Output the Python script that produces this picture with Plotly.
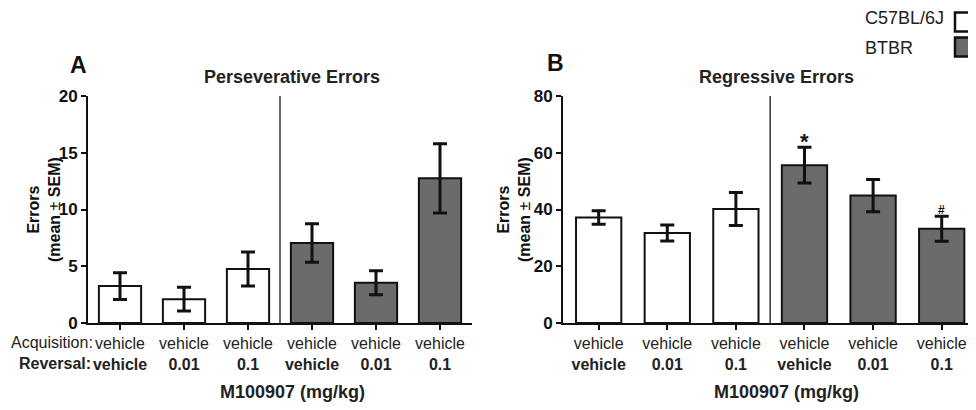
import plotly.graph_objects as go

# ---- data ----
strains = ["C57BL/6J", "BTBR"]
strain_of_bar = ["C57BL/6J", "C57BL/6J", "C57BL/6J", "BTBR", "BTBR", "BTBR"]
acq_labels = ["vehicle", "vehicle", "vehicle", "vehicle", "vehicle", "vehicle"]
rev_labels = ["vehicle", "0.01", "0.1", "vehicle", "0.01", "0.1"]
pers_mean = [3.25, 2.1, 4.75, 7.05, 3.55, 12.75]
pers_sem = [1.17, 1.05, 1.5, 1.7, 1.05, 3.05]
reg_mean = [37.2, 31.7, 40.2, 55.6, 44.9, 33.2]
reg_sem = [2.4, 2.8, 5.8, 6.3, 5.7, 4.4]
reg_marks = ["", "", "", "*", "", "#"]
pers_ticks = [0, 5, 10, 15, 20]
reg_ticks = [0, 20, 40, 60, 80]

FONT = "Liberation Sans, Arial, sans-serif"
fills = {"C57BL/6J": "#ffffff", "BTBR": "#6d6a6b"}

# page has an 8px body margin at top-left; figure fills the rest of the window
OFF = 8
W, H = 976 - OFF, 410 - OFF

def px(x):
    return (x - OFF) / W

def py(y):
    return 1 - (y - OFF) / H

fig = go.Figure()
pos = list(range(len(rev_labels)))
ticktext = [f"{a}<br><b>{r}</b>" for a, r in zip(acq_labels, rev_labels)]

for means, sems, xa, ya in [(pers_mean, pers_sem, "x", "y"), (reg_mean, reg_sem, "x2", "y2")]:
    for s in strains:
        idx = [i for i, st in enumerate(strain_of_bar) if st == s]
        fig.add_trace(go.Bar(
            x=[pos[i] for i in idx], y=[means[i] for i in idx],
            error_y=dict(type="data", array=[sems[i] for i in idx], color="#111", thickness=3, width=7),
            marker=dict(color=fills[s], line=dict(color="#111", width=2)),
            width=0.66, name=s, showlegend=False, xaxis=xa, yaxis=ya,
        ))

axis_common = dict(showline=True, linecolor="#111", linewidth=2, ticks="outside", automargin=False,
                   ticklen=5, tickwidth=2, tickcolor="#111", showgrid=False, zeroline=False)

fig.update_layout(
    width=W, height=H, margin=dict(l=0, r=0, t=0, b=0, autoexpand=False),
    paper_bgcolor="white", plot_bgcolor="white", barmode="overlay",
    font=dict(family=FONT, color="#111"),
    xaxis=dict(domain=[px(88), px(472)], range=[-0.5, 5.5], tickvals=pos, ticktext=ticktext,
               tickfont=dict(size=16, family=FONT, color="#222"), anchor="y", **axis_common),
    yaxis=dict(domain=[py(323), py(96)], range=[0, 20], tickvals=pers_ticks, anchor="x",
               tickfont=dict(size=17, family=FONT, weight="bold"), **axis_common),
    xaxis2=dict(domain=[px(563), 1.0], range=[-0.52, 5.5], tickvals=pos, ticktext=ticktext,
                tickfont=dict(size=16, family=FONT, color="#222"), anchor="y2", **axis_common),
    yaxis2=dict(domain=[py(323), py(96)], range=[0, 80], tickvals=reg_ticks, anchor="x2",
                tickfont=dict(size=17, family=FONT, weight="bold"), **axis_common),
)

# divider lines between strains
fig.add_shape(type="line", xref="x", yref="y", x0=2.5, x1=2.5, y0=0, y1=pers_ticks[-1],
              line=dict(color="#333", width=1.5))
fig.add_shape(type="line", xref="x2", yref="y2", x0=2.5, x1=2.5, y0=0, y1=reg_ticks[-1],
              line=dict(color="#333", width=1.5))

# significance marks
for i, m in enumerate(reg_marks):
    if m:
        fig.add_annotation(x=pos[i], y=reg_mean[i] + reg_sem[i], xref="x2", yref="y2", text=f"<b>{m}</b>",
                           showarrow=False, yanchor="bottom", yshift=(-9 if m == "*" else -3),
                           font=dict(size=22 if m == "*" else 12, family=FONT, color="#111"))

def ann(text, x, y, size, bold=False, xanchor="center", angle=0, color="#111"):
    fig.add_annotation(text=(f"<b>{text}</b>" if bold else text), x=px(x), y=py(y),
                       xref="paper", yref="paper", showarrow=False, xanchor=xanchor, yanchor="middle",
                       textangle=angle, font=dict(size=size, family=FONT, color=color))

# panel letters and titles
ann("A", 78, 65, 23, bold=True)
ann("B", 555, 63, 23, bold=True)
ann("Perseverative Errors", 292, 77, 18, bold=True, color="#222")
ann("Regressive Errors", 776, 77, 18, bold=True, color="#222")

# y titles
for xc in (44, 514):
    ann("Errors<br>(mean <span style='font-weight:normal'>±</span> SEM)", xc, 210, 16, bold=True, angle=-90)

# row labels
ann("Acquisition:", 95, 342, 16, xanchor="right", color="#222")
ann("Reversal:", 93, 363, 16, bold=True, xanchor="right", color="#222")

# x titles
ann("M100907 (mg/kg)", 292, 392, 18, bold=True, color="#222")
ann("M100907 (mg/kg)", 786, 392, 18, bold=True, color="#222")

# legend
for k, s in enumerate(strains):
    yc = 22 + k * 25
    fig.add_shape(type="rect", xref="paper", yref="paper", x0=px(955), x1=px(973),
                  y0=py(yc + 9.5), y1=py(yc - 9.5),
                  fillcolor=fills[s], line=dict(color="#111", width=2.5))
    ann(s, 863, (18 if k == 0 else 48), 18, xanchor="left", color="#222")

fig.write_html("out.html")
